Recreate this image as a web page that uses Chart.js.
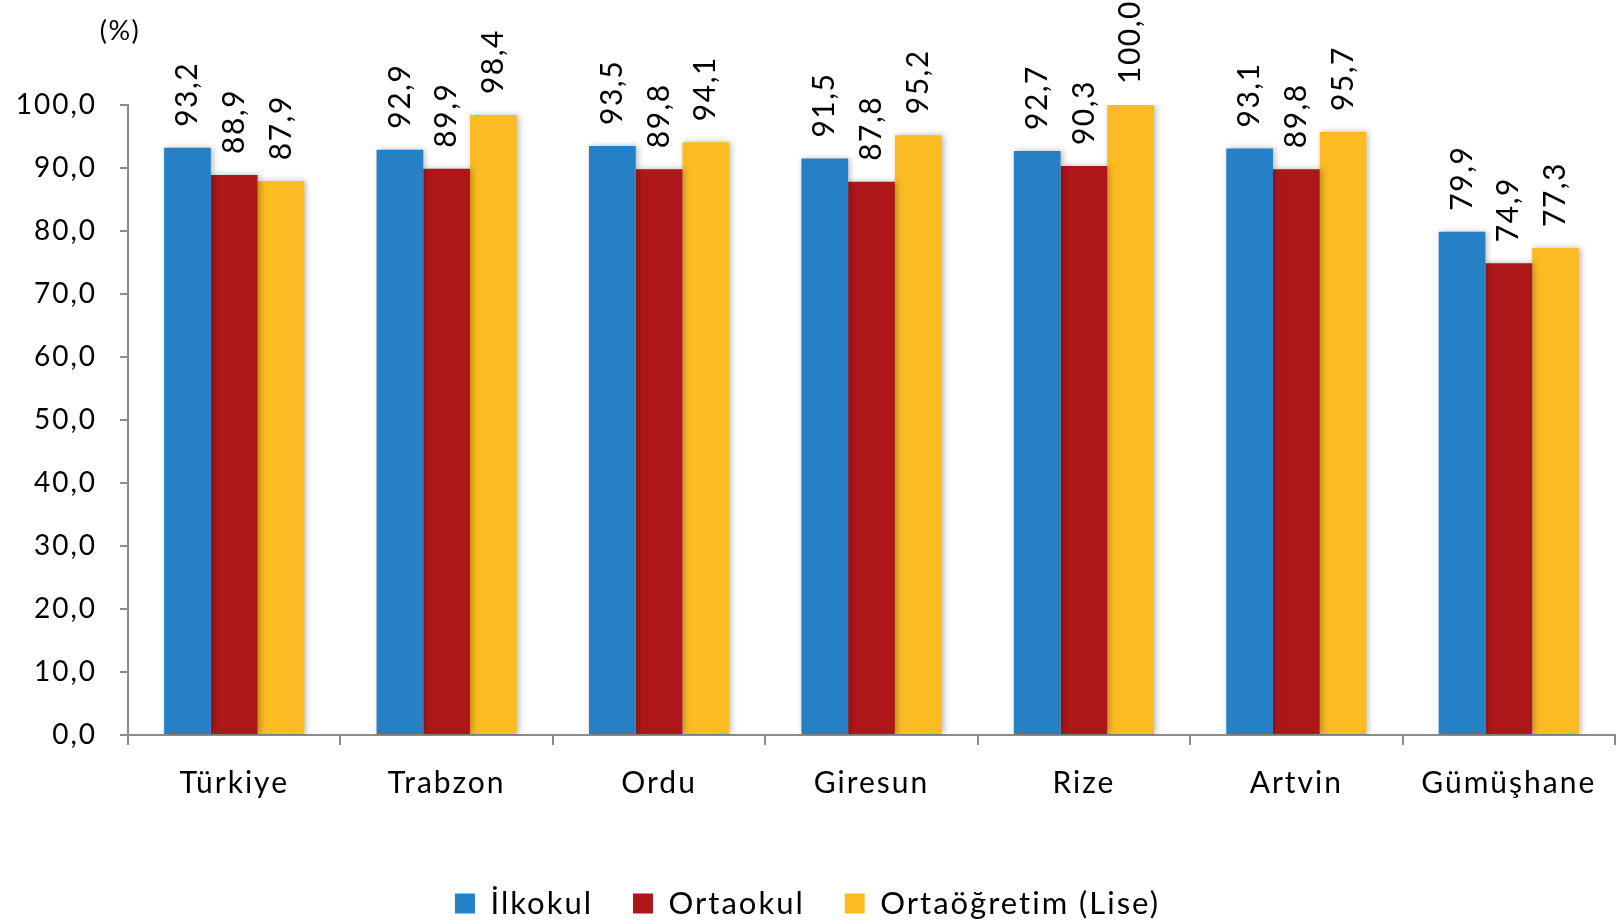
<!DOCTYPE html>
<html lang="tr">
<head>
<meta charset="utf-8">
<title>Okullaşma oranı</title>
<script src="https://cdn.jsdelivr.net/npm/chart.js@4.4.1/dist/chart.umd.min.js"></script>
<style>
    html, body { margin: 0; padding: 0; background: #fff; }
    #wrap { width: 1617px; height: 923px; position: relative; }
</style>
</head>
<body>
<div id="wrap"><canvas id="chart"></canvas></div>
<script>
// ---- Data ----
const categories = ['Türkiye', 'Trabzon', 'Ordu', 'Giresun', 'Rize', 'Artvin', 'Gümüşhane'];
const seriesNames = ['İlkokul', 'Ortaokul', 'Ortaöğretim (Lise)'];
const ilkokul = [93.2, 92.9, 93.5, 91.5, 92.7, 93.1, 79.9];
const ortaokul = [88.9, 89.9, 89.8, 87.8, 90.3, 89.8, 74.9];
const ortaogretim = [87.9, 98.4, 94.1, 95.2, 100.0, 95.7, 77.3];
const yTicks = [0, 10, 20, 30, 40, 50, 60, 70, 80, 90, 100];
const unitLabel = '(%)';

const colors = ['#2680C5', '#AE1719', '#FBBB23'];
const axisColor = '#8c8c8c';
const fontFamily = 'Lato, "Open Sans", sans-serif';

const fmt = v => v.toFixed(1).replace('.', ',');

// the original text is set quite loosely, so widen the letters a bit
const looseText = {
    id: 'looseText',
    beforeLayout(chart) { chart.ctx.letterSpacing = '2px'; },
    beforeDraw(chart) { chart.ctx.letterSpacing = '2px'; }
};

// soft shadow behind the bars
const barShadow = {
    id: 'barShadow',
    beforeDatasetsDraw(chart) {
        const ctx = chart.ctx;
        ctx.save();
        ctx.shadowColor = 'rgba(0, 0, 0, 0.28)';
        ctx.shadowBlur = 6;
        ctx.shadowOffsetX = 2;
        ctx.shadowOffsetY = 0;
    },
    afterDatasetsDraw(chart) {
        chart.ctx.restore();
    }
};

// rotated value labels above each bar + the unit label
const valueLabels = {
    id: 'valueLabels',
    afterDatasetsDraw(chart) {
        const ctx = chart.ctx;
        ctx.save();
        ctx.letterSpacing = '1.5px';
        ctx.fillStyle = '#000';
        ctx.font = '30px ' + fontFamily;
        ctx.textAlign = 'left';
        ctx.textBaseline = 'middle';
        chart.data.datasets.forEach((ds, di) => {
            chart.getDatasetMeta(di).data.forEach((bar, i) => {
                ctx.save();
                ctx.translate(bar.x, bar.y - 21);
                ctx.rotate(-Math.PI / 2);
                ctx.fillText(fmt(ds.data[i]), 0, 0);
                ctx.restore();
            });
        });
        ctx.font = '27px ' + fontFamily;
        ctx.textAlign = 'center';
        ctx.fillText(unitLabel, 120, 31);
        ctx.restore();
    }
};

const ctx = document.getElementById('chart').getContext('2d');
const datasetsData = [ilkokul, ortaokul, ortaogretim];

window.barChart = new Chart(ctx, {
    type: 'bar',
    data: {
        labels: categories,
        datasets: seriesNames.map((name, i) => ({
            label: name,
            data: datasetsData[i],
            backgroundColor: colors[i],
            borderWidth: 0,
            categoryPercentage: 0.66,
            barPercentage: 1.0
        }))
    },
    options: {
        responsive: true,
        maintainAspectRatio: false,
        animation: false,
        layout: { padding: { top: 105, right: 2, left: 0, bottom: 0 } },
        plugins: {
            legend: {
                position: 'bottom',
                maxHeight: 75,
                labels: {
                    color: '#000',
                    font: { family: fontFamily, size: 31 },
                    boxWidth: 20,
                    boxHeight: 20,
                    padding: 40
                }
            },
            tooltip: { enabled: false }
        },
        scales: {
            x: {
                grid: { display: true, offset: true, drawOnChartArea: false, drawTicks: true, tickLength: 10, color: axisColor, lineWidth: 2 },
                border: { display: true, color: axisColor, width: 2 },
                ticks: { color: '#000', font: { family: fontFamily, size: 30 }, padding: 20, maxRotation: 0 },
                afterFit(scale) { scale.height = 113; }
            },
            y: {
                min: 0,
                max: 100,
                afterBuildTicks(scale) { scale.ticks = yTicks.map(v => ({ value: v })); },
                grid: { display: true, drawOnChartArea: false, drawTicks: true, tickLength: 8, color: axisColor, lineWidth: 2 },
                border: { display: true, color: axisColor, width: 2 },
                ticks: { color: '#000', font: { family: fontFamily, size: 28 }, padding: 23, callback: v => fmt(v) },
                afterFit(scale) { scale.width = 128; }
            }
        }
    },
    plugins: [looseText, barShadow, valueLabels]
});
</script>
</body>
</html>
